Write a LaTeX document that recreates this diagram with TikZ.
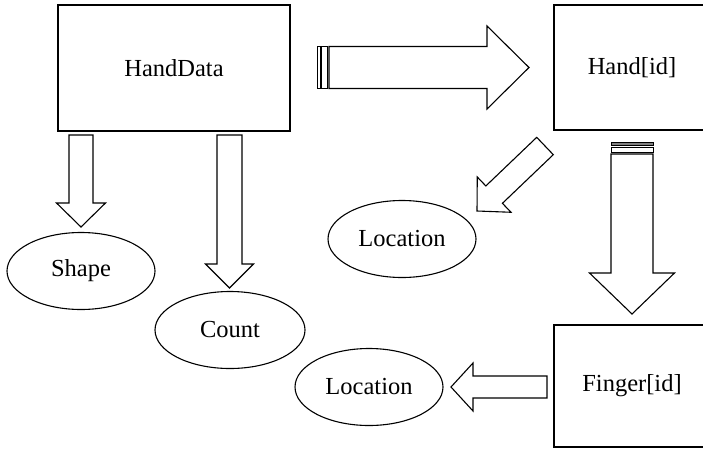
\documentclass[tikz,border=0pt]{standalone}
\usepackage{fontspec}
\setmainfont{Liberation Serif}
\usetikzlibrary{calc,shapes.geometric}

% hollow block arrow: tail, tip, half body, half head, head length
\newcommand{\blockarrow}[5]{%
  \path ($(#2)!#5!(#1)$) coordinate (hb);
  \draw ($(#1)!#3!90:(#2)$) -- ($(hb)!#3!90:(#2)$) -- ($(hb)!#4!90:(#2)$) -- (#2)
    -- ($(hb)!#4!-90:(#2)$) -- ($(hb)!#3!-90:(#2)$) -- ($(#1)!#3!-90:(#2)$) -- cycle;
}

\begin{document}
\begin{tikzpicture}
	[x=1pt,y=-1pt,line width=1.1pt,
	 box/.style={rectangle,draw,inner sep=0pt},
	 oval/.style={ellipse,draw,inner sep=0pt,minimum width=148pt,minimum height=77pt},
	 every node/.style={font=\fontsize{24.5}{28}\selectfont}]
    \useasboundingbox (0,0) rectangle (703,450);

    \node[box,minimum width=232pt,minimum height=126pt] (data) at (174,68) {HandData};
    \node[box,minimum width=156pt,minimum height=125pt] (hand) at (632,67.5) {Hand[id]};
    \node[box,minimum width=156pt,minimum height=122pt] (finger) at (632,386) {Finger[id]};

    \node[oval] (shape) at (81,271) {Shape};
    \node[oval,minimum width=150pt] (count) at (230,330) {Count};
    \node[oval] (loc1) at (402,239) {Location};
    \node[oval] (loc2) at (369,387) {Location};

    \coordinate (s1) at (329,67.5);
    \coordinate (e1) at (529,67.5);
    \coordinate (s2) at (632,154);
    \coordinate (e2) at (632,314);
    \coordinate (s3) at (81,135);
    \coordinate (e3) at (81,227);
    \coordinate (s4) at (229.5,135);
    \coordinate (e4) at (229.5,288);
    \coordinate (s5) at (545,146);
    \coordinate (e5) at (477,211);
    \coordinate (s6) at (547,387);
    \coordinate (e6) at (451,387);

    \blockarrow{s1}{e1}{21pt}{41.5pt}{42pt}
    \blockarrow{s2}{e2}{21pt}{42.5pt}{41pt}
    \blockarrow{s3}{e3}{12pt}{24.5pt}{24pt}
    \blockarrow{s4}{e4}{12.5pt}{24pt}{24pt}
    \blockarrow{s5}{e5}{12pt}{24.4pt}{23.7pt}
    \blockarrow{s6}{e6}{11pt}{24pt}{22pt}

    % stripes behind the two big arrows
    \draw[line width=0.8pt] (317,46.5) rectangle (320,88.5);
    \draw[line width=0.8pt] (321.5,46.5) rectangle (327,88.5);
    \draw[line width=0.8pt,fill=gray] (611,142) rectangle (653,145);
    \draw[line width=0.8pt] (611,147) rectangle (653,152);

\end{tikzpicture}
\end{document}
